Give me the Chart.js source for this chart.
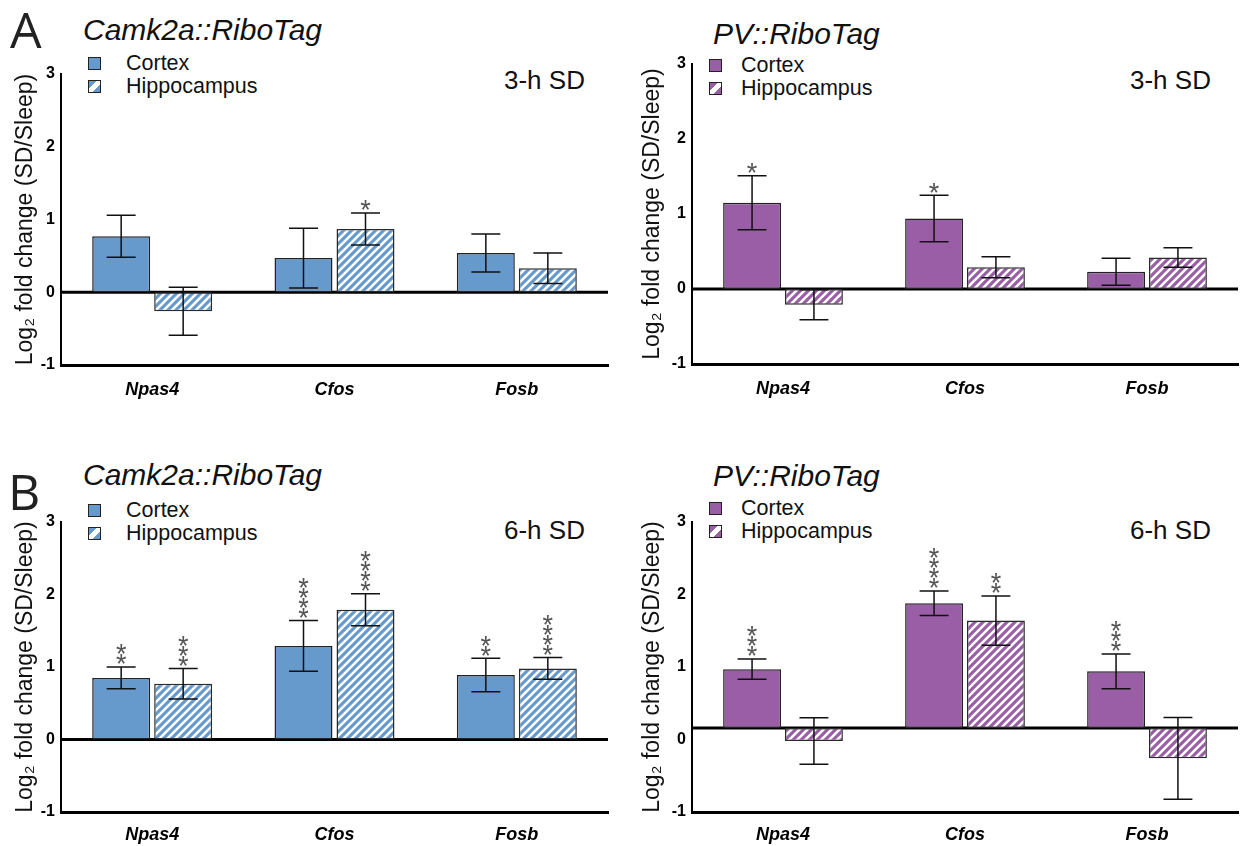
<!DOCTYPE html>
<html lang="en">
<head>
<meta charset="UTF-8">
<title>Log2 fold change after sleep deprivation</title>
<script src="https://cdn.jsdelivr.net/npm/chart.js@4.4.0/dist/chart.umd.min.js"></script>
<style>
    * { margin: 0; padding: 0; box-sizing: border-box; }
    body {
        width: 1244px; height: 846px; position: relative; overflow: hidden;
        background: #fff; color: #111;
        font-family: "Liberation Sans", Arial, sans-serif;
    }
    canvas { position: absolute; }
    .letter { position: absolute; font-family: "Open Sans", sans-serif; font-size: 50px; line-height: 1; color: #222; }
    .title { position: absolute; font-style: italic; font-size: 30px; line-height: 1; white-space: nowrap; }
    .cond { position: absolute; font-size: 26px; line-height: 1; white-space: nowrap; }
    .legend { position: absolute; font-size: 21.5px; }
    .legend-item { display: flex; align-items: center; height: 23px; white-space: nowrap; }
    .swatch { width: 13px; height: 13px; border: 1.5px solid #222; }
    .blue { background: #6699cc; }
    .purple { background: #9a5ea6; }
    .blue.hatch { background: linear-gradient(135deg, #6699cc 36%, #fff 36%, #fff 64%, #6699cc 64%); }
    .purple.hatch { background: linear-gradient(135deg, #9a5ea6 36%, #fff 36%, #fff 64%, #9a5ea6 64%); }
</style>
</head>
<body>
    <div class="letter" style="left:10px; top:4px;">A</div>
    <div class="letter" style="left:8px; top:466px;">B</div>

    <div class="title" style="left:83px; top:15px;">Camk2a::RiboTag</div>
    <div class="title" style="left:713px; top:19px;">PV::RiboTag</div>
    <div class="title" style="left:83px; top:460px;">Camk2a::RiboTag</div>
    <div class="title" style="left:713px; top:461px;">PV::RiboTag</div>

    <div class="cond" style="left:504px; top:67px;">3-h SD</div>
    <div class="cond" style="left:1130px; top:67px;">3-h SD</div>
    <div class="cond" style="left:504px; top:517px;">6-h SD</div>
    <div class="cond" style="left:1130px; top:517px;">6-h SD</div>

    <div class="legend" style="left:88px; top:52px;">
        <div class="legend-item"><div class="swatch blue" style="margin-right:25px"></div>Cortex</div>
        <div class="legend-item"><div class="swatch blue hatch" style="margin-right:25px"></div>Hippocampus</div>
    </div>
    <div class="legend" style="left:709px; top:54px;">
        <div class="legend-item"><div class="swatch purple" style="margin-right:19px"></div>Cortex</div>
        <div class="legend-item"><div class="swatch purple hatch" style="margin-right:19px"></div>Hippocampus</div>
    </div>
    <div class="legend" style="left:88px; top:499px;">
        <div class="legend-item"><div class="swatch blue" style="margin-right:25px"></div>Cortex</div>
        <div class="legend-item"><div class="swatch blue hatch" style="margin-right:25px"></div>Hippocampus</div>
    </div>
    <div class="legend" style="left:709px; top:497px;">
        <div class="legend-item"><div class="swatch purple" style="margin-right:19px"></div>Cortex</div>
        <div class="legend-item"><div class="swatch purple hatch" style="margin-right:19px"></div>Hippocampus</div>
    </div>

    <canvas id="camk3" width="620" height="370" style="left:0; top:50px;"></canvas>
    <canvas id="pv3" width="613" height="380" style="left:631px; top:40px;"></canvas>
    <canvas id="camk6" width="620" height="356" style="left:0; top:490px;"></canvas>
    <canvas id="pv6" width="613" height="356" style="left:631px; top:490px;"></canvas>

<script>
    const categories = ['Npas4', 'Cfos', 'Fosb'];
    const yTicks = [-1, 0, 1, 2, 3];

    // Camk2a::RiboTag, 3-h SD
    const camk3Cortex = [0.77, 0.47, 0.54];
    const camk3CortexErr = [0.29, 0.41, 0.26];
    const camk3CortexSig = ['', '', ''];
    const camk3Hippo = [-0.26, 0.87, 0.33];
    const camk3HippoErr = [0.33, 0.22, 0.21];
    const camk3HippoSig = ['', '*', ''];
    const camk3Baseline = 0;

    // PV::RiboTag, 3-h SD
    const pv3Cortex = [1.15, 0.94, 0.23];
    const pv3CortexErr = [0.36, 0.31, 0.18];
    const pv3CortexSig = ['*', '*', ''];
    const pv3Hippo = [-0.21, 0.29, 0.42];
    const pv3HippoErr = [0.20, 0.14, 0.13];
    const pv3HippoSig = ['', '', ''];
    const pv3Baseline = 0;

    // Camk2a::RiboTag, 6-h SD
    const camk6Cortex = [0.85, 1.29, 0.89];
    const camk6CortexErr = [0.15, 0.35, 0.23];
    const camk6CortexSig = ['**', '****', '**'];
    const camk6Hippo = [0.77, 1.79, 0.98];
    const camk6HippoErr = [0.21, 0.22, 0.15];
    const camk6HippoSig = ['***', '****', '****'];
    const camk6Baseline = 0;

    // PV::RiboTag, 6-h SD (the drawn baseline sits a little above the 0 tick in the original)
    const pv6Cortex = [0.97, 1.88, 0.94];
    const pv6CortexErr = [0.14, 0.17, 0.24];
    const pv6CortexSig = ['***', '****', '***'];
    const pv6Hippo = [-0.02, 1.64, -0.26];
    const pv6HippoErr = [0.32, 0.34, 0.565];
    const pv6HippoSig = ['', '**', ''];
    const pv6Baseline = 0.16;

    const BLUE = '#6699cc';
    const PURPLE = '#9a5ea6';
    const FONT = '"Liberation Sans", Arial, sans-serif';

    // diagonal white stripes, "/" direction
    function hatch(color) {
        const s = 8;
        const c = document.createElement('canvas');
        c.width = s; c.height = s;
        const g = c.getContext('2d');
        g.fillStyle = color;
        g.fillRect(0, 0, s, s);
        g.strokeStyle = '#fff';
        g.lineWidth = 2.6;
        g.beginPath();
        g.moveTo(-1, s + 1); g.lineTo(s + 1, -1);
        g.moveTo(-1, 1); g.lineTo(1, -1);
        g.moveTo(s - 1, s + 1); g.lineTo(s + 1, s - 1);
        g.stroke();
        return g.createPattern(c, 'repeat');
    }

    // horizontal baseline across the plot
    const baseLine = {
        id: 'baseLine',
        beforeDatasetsDraw(chart, args, opts) {
            const { ctx, chartArea } = chart;
            const py = chart.scales.y.getPixelForValue(opts.value);
            ctx.save();
            ctx.strokeStyle = '#000';
            ctx.lineWidth = 3;
            ctx.beginPath();
            ctx.moveTo(chartArea.left, py);
            ctx.lineTo(chartArea.right, py);
            ctx.stroke();
            ctx.restore();
        }
    };

    // error bars + significance stars
    const errorBars = {
        id: 'errorBars',
        afterDatasetsDraw(chart) {
            const ctx = chart.ctx;
            const y = chart.scales.y;
            chart.data.datasets.forEach((ds, i) => {
                chart.getDatasetMeta(i).data.forEach((bar, j) => {
                    const v = ds.data[j], e = ds.errors[j];
                    const top = y.getPixelForValue(v + e);
                    const bot = y.getPixelForValue(v - e);
                    const half = bar.width / 4;
                    ctx.save();
                    ctx.strokeStyle = '#111';
                    ctx.lineWidth = 1.5;
                    ctx.beginPath();
                    ctx.moveTo(bar.x, top); ctx.lineTo(bar.x, bot);
                    ctx.moveTo(bar.x - half, top); ctx.lineTo(bar.x + half, top);
                    ctx.moveTo(bar.x - half, bot); ctx.lineTo(bar.x + half, bot);
                    ctx.stroke();
                    ctx.fillStyle = '#555';
                    ctx.font = '27px ' + FONT;
                    ctx.textAlign = 'center';
                    for (let k = 0; k < ds.sig[j].length; k++) {
                        const cy = top - 9 - k * 10;
                        ctx.fillText('*', bar.x, cy + 15.4);
                    }
                    ctx.restore();
                });
            });
        }
    };

    function makeChart(id, color, cortex, cortexErr, cortexSig, hippo, hippoErr, hippoSig, baseline, g) {
        const ctx = document.getElementById(id).getContext('2d');
        return new Chart(ctx, {
            type: 'bar',
            data: {
                labels: categories,
                datasets: [{
                    label: 'Cortex',
                    data: cortex, errors: cortexErr, sig: cortexSig, base: baseline,
                    backgroundColor: color,
                    borderColor: '#222', borderWidth: 1.5, borderSkipped: false
                }, {
                    label: 'Hippocampus',
                    data: hippo, errors: hippoErr, sig: hippoSig, base: baseline,
                    backgroundColor: hatch(color),
                    borderColor: '#2a2a2a', borderWidth: 1.5, borderSkipped: false
                }]
            },
            options: {
                responsive: false,
                devicePixelRatio: 1,
                animation: false,
                categoryPercentage: 0.68,
                barPercentage: 0.935,
                layout: { padding: { top: g.pt, right: g.pr, left: 0, bottom: 0 } },
                plugins: {
                    legend: { display: false },
                    tooltip: { enabled: false },
                    baseLine: { value: baseline }
                },
                scales: {
                    x: {
                        grid: { display: false },
                        border: { display: true, color: '#000', width: 3 },
                        ticks: { color: '#000', padding: g.lp, font: { family: FONT, size: 18, weight: 'bold', style: 'italic' } },
                        afterFit: s => { s.height = g.xh; }
                    },
                    y: {
                        min: yTicks[0],
                        max: yTicks[yTicks.length - 1],
                        afterBuildTicks: s => { s.ticks = yTicks.map(v => ({ value: v })); },
                        grid: { display: false, drawTicks: false },
                        border: { display: true, color: '#000', width: 2 },
                        ticks: { color: '#000', padding: 6, font: { family: FONT, size: 16, weight: 'bold' } },
                        title: {
                            display: true,
                            text: 'Log\u2082 fold change (SD/Sleep)',
                            color: '#111',
                            font: { family: FONT, size: 23 },
                            padding: { top: g.tp, bottom: 0 }
                        },
                        afterFit: s => { s.width = g.yw; }
                    }
                }
            },
            plugins: [baseLine, errorBars]
        });
    }

    makeChart('camk3', BLUE, camk3Cortex, camk3CortexErr, camk3CortexSig, camk3Hippo, camk3HippoErr, camk3HippoSig, camk3Baseline,
        { pt: 24, pr: 12, xh: 55, yw: 61, tp: 12, lp: 6 });
    makeChart('pv3', PURPLE, pv3Cortex, pv3CortexErr, pv3CortexSig, pv3Hippo, pv3HippoErr, pv3HippoSig, pv3Baseline,
        { pt: 24, pr: 6, xh: 56, yw: 61, tp: 8, lp: 6 });
    makeChart('camk6', BLUE, camk6Cortex, camk6CortexErr, camk6CortexSig, camk6Hippo, camk6HippoErr, camk6HippoSig, camk6Baseline,
        { pt: 32, pr: 12, xh: 34, yw: 61, tp: 12, lp: 4 });
    makeChart('pv6', PURPLE, pv6Cortex, pv6CortexErr, pv6CortexSig, pv6Hippo, pv6HippoErr, pv6HippoSig, pv6Baseline,
        { pt: 32, pr: 6, xh: 34, yw: 61, tp: 8, lp: 4 });
</script>
</body>
</html>
